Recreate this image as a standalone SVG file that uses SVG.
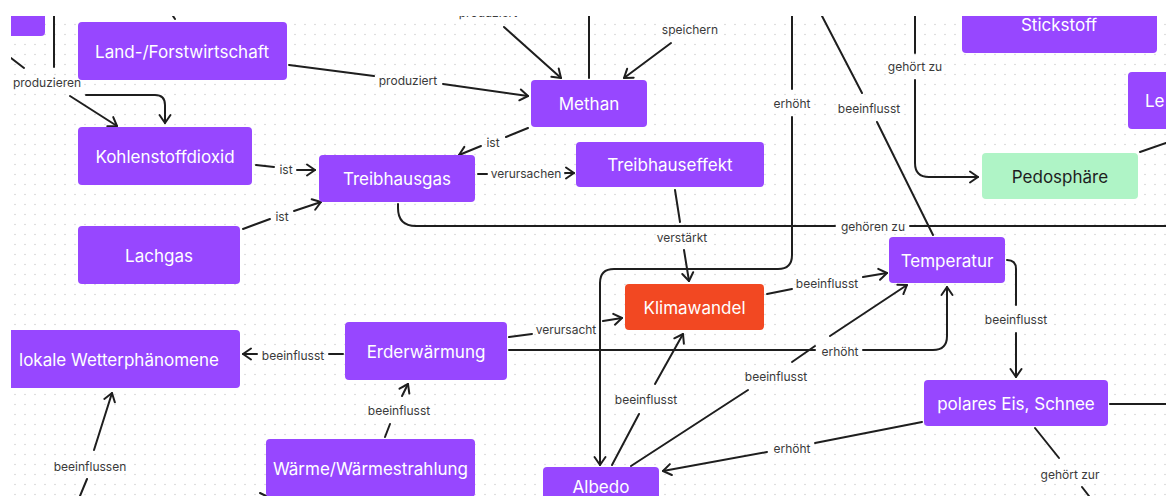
<svg xmlns="http://www.w3.org/2000/svg" width="1166" height="496" viewBox="0 0 1166 496">
<style>
.n{fill:#9747ff}
.nt{font-family:Inter,"Liberation Sans",sans-serif;font-size:17px;fill:#ffffff;text-anchor:middle;dominant-baseline:central}
.lb{font-family:Inter,"Liberation Sans",sans-serif;font-size:12px;fill:#3a3a3a;text-anchor:middle;dominant-baseline:central}
.c path{fill:none;stroke:#1e1e1e;stroke-width:2;stroke-linecap:round;stroke-linejoin:round}
.c path.a{marker-end:url(#ah)}
</style>
<defs>
<pattern id="dots" x="0" y="0" width="10" height="10" patternUnits="userSpaceOnUse">
<circle cx="5" cy="4.5" r="0.8" fill="#d2d2d2"/>
</pattern>
<clipPath id="cv"><rect x="11" y="16" width="1155" height="480"/></clipPath>
<marker id="ah" viewBox="-10 -7 12 14" refX="0" refY="0" markerWidth="12" markerHeight="14" markerUnits="userSpaceOnUse" orient="auto">
<path d="M-8,-5.5 L0,0 L-8,5.5" fill="none" stroke="#1e1e1e" stroke-width="2" stroke-linecap="round" stroke-linejoin="round"/>
</marker>
</defs>
<rect width="1166" height="496" fill="#ffffff"/>
<g clip-path="url(#cv)">
<rect x="11" y="16" width="1155" height="480" fill="url(#dots)"/>
<g id="connectors" class="c">
<path d="M54,16 L54,67"/>
<path d="M11,58 L24,68"/>
<path class="a" d="M70,96 L117,126"/>
<path class="a" d="M86,95 L155,95 Q165,95 165,105 L165,123"/>
<path d="M289,65 L374,76"/>
<path class="a" d="M443,84 L528,96"/>
<path class="a" d="M504,27 L561,78"/>
<path d="M589,16 L589,78"/>
<path class="a" d="M671,43 L624,78"/>
<path d="M528,128 L506,137"/>
<path class="a" d="M481,146 L459,155"/>
<path d="M256,165 L274,167"/>
<path class="a" d="M297,170 L315,170"/>
<path d="M243,229 L270,219"/>
<path class="a" d="M294,211 L321,202"/>
<path d="M478,174 L487,174"/>
<path class="a" d="M565,173 L574,173"/>
<path d="M398,204 L398,208 Q398,226 416,226 L835,226"/>
<path d="M910,226 L1166,226"/>
<path d="M675,190 L680,222"/>
<path class="a" d="M684,250 L689,281"/>
<path d="M792,16 L792,89"/>
<path class="a" d="M792,117 L792,255 Q792,269 778,269 L614,269 Q600,269 600,283 L600,465"/>
<path d="M509,350 L815,350"/>
<path class="a" d="M863,350 L933,350 Q947,350 947,336 L947,287"/>
<path d="M509,337 L532,334"/>
<path class="a" d="M603,321 L622,318"/>
<path d="M767,294 L792,289"/>
<path class="a" d="M863,277 L887,273"/>
<path d="M1007,260 Q1016,260 1016,269 L1016,305"/>
<path class="a" d="M1016,333 L1016,377"/>
<path d="M612,465 L639,414"/>
<path class="a" d="M655,384 L683,334"/>
<path d="M631,466 L748,390"/>
<path d="M792,362 L815,346"/>
<path class="a" d="M830,336 L907,285"/>
<path d="M922,422 L815,443"/>
<path class="a" d="M767,452 L663,471"/>
<path d="M1110,404 L1166,404"/>
<path d="M1035,428 L1059,458"/>
<path d="M1082,487 L1089,496"/>
<path d="M343,354 L329,354"/>
<path class="a" d="M257,354 L243,354"/>
<path d="M385,437 L390,424"/>
<path class="a" d="M402,396 L408,384"/>
<path d="M80,496 L87,479"/>
<path class="a" d="M94,450 L112,393"/>
<path d="M260,493 L266,496"/>
<path d="M915,16 L915,53"/>
<path class="a" d="M915,80 L915,163 Q915,177 929,177 L978,177"/>
<path d="M822,16 L862,93"/>
<path d="M877,122 L933,235"/>
<path d="M1140,152 L1166,143"/>
<path d="M173,16 L175,19"/>
<text class="lb" x="47" y="82">produzieren</text>
<text class="lb" x="408" y="80">produziert</text>
<text class="lb" x="488" y="12">produziert</text>
<text class="lb" x="690" y="29">speichern</text>
<text class="lb" x="493" y="142">ist</text>
<text class="lb" x="286" y="169">ist</text>
<text class="lb" x="282" y="216">ist</text>
<text class="lb" x="526" y="173">verursachen</text>
<text class="lb" x="873" y="226">gehören zu</text>
<text class="lb" x="682" y="237">verstärkt</text>
<text class="lb" x="792" y="103">erhöht</text>
<text class="lb" x="869" y="108">beeinflusst</text>
<text class="lb" x="915" y="66">gehört zu</text>
<text class="lb" x="827" y="283">beeinflusst</text>
<text class="lb" x="1016" y="319">beeinflusst</text>
<text class="lb" x="566" y="329">verursacht</text>
<text class="lb" x="840" y="351">erhöht</text>
<text class="lb" x="646" y="399">beeinflusst</text>
<text class="lb" x="776" y="376">beeinflusst</text>
<text class="lb" x="792" y="448">erhöht</text>
<text class="lb" x="1070" y="474">gehört zur</text>
<text class="lb" x="293" y="355">beeinflusst</text>
<text class="lb" x="399" y="410">beeinflusst</text>
<text class="lb" x="90" y="466">beeinflussen</text>
</g>
<g id="node-topleft"><rect class="n" x="-20" y="-10" width="65" height="46" rx="4"/></g>
<g id="node-land"><rect class="n" x="78" y="22" width="209" height="58" rx="4"/><text class="nt" x="182" y="52">Land-/Forstwirtschaft</text></g>
<g id="node-co2"><rect class="n" x="78" y="127" width="174" height="58" rx="4"/><text class="nt" x="165" y="157">Kohlenstoffdioxid</text></g>
<g id="node-lachgas"><rect class="n" x="78" y="226" width="162" height="58" rx="4"/><text class="nt" x="159" y="256">Lachgas</text></g>
<g id="node-treibhausgas"><rect class="n" x="319" y="155" width="156" height="47" rx="4"/><text class="nt" x="397" y="179">Treibhausgas</text></g>
<g id="node-methan"><rect class="n" x="531" y="80" width="116" height="47" rx="4"/><text class="nt" x="589" y="104">Methan</text></g>
<g id="node-treibhauseffekt"><rect class="n" x="576" y="142" width="188" height="45" rx="4"/><text class="nt" x="670" y="165">Treibhauseffekt</text></g>
<g id="node-stickstoff"><rect class="n" x="962" y="-5" width="195" height="58" rx="4"/><text class="nt" x="1059" y="25">Stickstoff</text></g>
<g id="node-le"><rect class="n" x="1128" y="72" width="60" height="57" rx="4"/><text class="nt" x="1145" y="101" style="text-anchor:start">Le</text></g>
<g id="node-pedosphaere"><rect x="982" y="153" width="156" height="46" rx="4" fill="#aff4c6"/><text class="nt" x="1060" y="177" style="fill:#1e1e1e">Pedosphäre</text></g>
<g id="node-temperatur"><rect class="n" x="889" y="237" width="116" height="46" rx="4"/><text class="nt" x="947" y="261">Temperatur</text></g>
<g id="node-klimawandel"><rect x="625" y="284" width="139" height="46" rx="4" fill="#f24822"/><text class="nt" x="694.5" y="308">Klimawandel</text></g>
<g id="node-erderwaermung"><rect class="n" x="345" y="322" width="162" height="58" rx="4"/><text class="nt" x="426" y="352">Erderwärmung</text></g>
<g id="node-wetter"><rect class="n" x="-3" y="330" width="243" height="58" rx="4"/><text class="nt" x="119" y="360">lokale Wetterphänomene</text></g>
<g id="node-waerme"><rect class="n" x="266" y="439" width="209" height="58" rx="4"/><text class="nt" x="370.5" y="469">Wärme/Wärmestrahlung</text></g>
<g id="node-albedo"><rect class="n" x="543" y="467" width="116" height="46" rx="4"/><text class="nt" x="601" y="487">Albedo</text></g>
<g id="node-polareis"><rect class="n" x="924" y="380" width="184" height="46" rx="4"/><text class="nt" x="1016" y="404">polares Eis, Schnee</text></g>
</g>
</svg>
